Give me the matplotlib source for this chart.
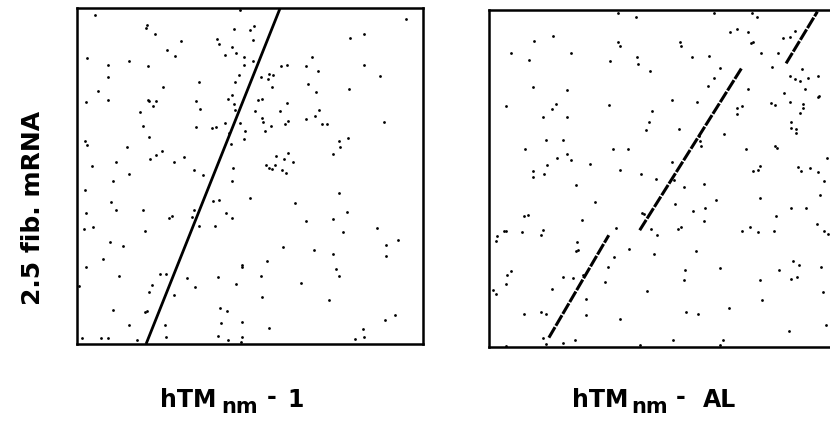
import matplotlib
matplotlib.use("Agg")
import matplotlib.pyplot as plt
import numpy as np

# ---------------- data (sequence positions) ----------------
left_dots_x = [55, 488, 985, 211, 206, 518, 531, 470, 233, 861, 421, 425, 528, 311, 819, 465, 269, 478, 444, 294,
               501, 31, 156, 528, 705, 93, 213, 500, 611, 628, 687, 860, 721, 907, 576, 588, 486, 572, 92, 551,
               367, 475, 691, 585, 258, 816, 62, 715, 93, 26, 212, 216, 238, 229, 555, 543, 464, 453, 472, 629,
               358, 370, 188, 474, 532, 607, 726, 714, 686, 554, 556, 633, 624, 444, 490, 733, 748, 919, 199, 358,
               406, 418, 582, 562, 456, 505, 215, 813, 785, 25, 30, 150, 461, 500, 788, 254, 238, 321, 633, 596,
               619, 767, 220, 117, 290, 46, 567, 574, 583, 592, 615, 626, 646, 467, 351, 378, 157, 109, 465, 23,
               784, 518, 103, 408, 426, 654, 118, 197, 350, 447, 26, 285, 277, 345, 466, 809, 686, 766, 365, 413,
               47, 21, 203, 899, 798, 963, 100, 138, 616, 925, 709, 768, 77, 925, 28, 494, 496, 568, 775, 126,
               248, 267, 551, 329, 422, 785, 478, 355, 226, 217, 672, 291, 555, 754, 109, 204, 210, 430, 451, 156,
               265, 432, 495, 924, 953, 575, 858, 268, 494, 424, 452, 491, 861, 833, 73, 93, 16, 181, 6]
left_dots_y = [987, 1002, 974, 957, 947, 942, 952, 944, 929, 929, 914, 900, 910, 907, 917, 890, 880, 872, 867, 862,
               860, 857, 849, 849, 860, 835, 834, 835, 834, 835, 832, 836, 817, 804, 810, 807, 805, 795, 800, 799,
               784, 784, 779, 770, 769, 764, 757, 756, 732, 725, 732, 727, 727, 712, 734, 730, 745, 734, 718, 723,
               727, 705, 695, 702, 697, 697, 702, 684, 674, 676, 665, 667, 659, 662, 661, 659, 659, 666, 654, 649,
               647, 650, 652, 639, 632, 638, 620, 616, 607, 609, 595, 589, 600, 615, 589, 577, 567, 560, 571, 564,
               553, 570, 554, 545, 545, 534, 535, 527, 524, 537, 520, 512, 544, 527, 520, 507, 509, 490, 489, 463,
               453, 439, 425, 429, 432, 422, 401, 401, 401, 392, 394, 383, 377, 380, 377, 396, 369, 375, 355, 355,
               350, 346, 340, 348, 335, 312, 306, 295, 291, 297, 281, 269, 256, 264, 230, 237, 230, 249, 226, 203,
               210, 209, 204, 199, 202, 204, 181, 170, 177, 155, 184, 147, 141, 133, 102, 97, 100, 107, 100, 57,
               57, 62, 67, 72, 86, 47, 46, 22, 22, 24, 12, 5, 20, 14, 17, 17, 19, 12, 174]

# main diagonal match (start, end) in the left comparison
left_match_x = [207, 609]
left_match_y = [0, 1007]

right_dots_x = [135, 191, 387, 394, 443, 573, 576, 676, 791, 807, 723, 746, 777, 793, 787, 885, 905, 920, 65, 120,
                245, 365, 445, 447, 483, 609, 661, 695, 676, 657, 778, 819, 869, 850, 905, 920, 935, 942, 958, 990,
                950, 888, 905, 945, 943, 935, 992, 990, 132, 235, 52, 189, 201, 162, 234, 362, 490, 481, 473, 550,
                625, 744, 760, 745, 848, 860, 908, 908, 922, 922, 571, 705, 170, 222, 109, 372, 418, 630, 635, 637,
                773, 861, 867, 203, 233, 247, 305, 175, 551, 133, 132, 165, 394, 458, 503, 555, 587, 645, 795, 808,
                815, 928, 937, 965, 990, 1008, 1015, 263, 320, 560, 613, 650, 683, 815, 907, 953, 995, 105, 118, 280,
                645, 460, 465, 862, 987, 23, 20, 45, 52, 100, 163, 155, 383, 488, 505, 567, 577, 760, 785, 810,
                858, 1008, 1020, 265, 260, 267, 375, 421, 495, 623, 359, 588, 693, 915, 931, 997, 872, 55, 65, 52,
                222, 251, 283, 348, 586, 816, 907, 925, 12, 20, 188, 291, 475, 821, 1005, 105, 155, 170, 292, 395,
                593, 628, 720, 1013, 903, 163, 170, 223, 258, 552, 702, 455, 695, 50, 387]
right_dots_y = [918, 932, 915, 903, 990, 915, 903, 1002, 1000, 990, 943, 952, 943, 915, 910, 925, 930, 947, 882, 860,
                882, 858, 868, 848, 828, 868, 872, 835, 807, 782, 772, 880, 882, 840, 812, 802, 798, 833, 807, 812,
                772, 762, 735, 728, 715, 700, 753, 748, 778, 770, 723, 713, 728, 690, 689, 724, 707, 674, 649, 740,
                735, 717, 722, 697, 730, 725, 673, 655, 653, 640, 652, 638, 620, 620, 594, 594, 594, 633, 617, 602,
                594, 602, 595, 567, 579, 560, 548, 546, 553, 526, 508, 518, 530, 519, 505, 500, 480, 489, 528, 530,
                543, 538, 528, 535, 525, 499, 567, 487, 436, 430, 408, 417, 442, 448, 418, 418, 455, 392, 395, 380,
                377, 402, 400, 392, 370, 334, 317, 347, 347, 344, 352, 335, 358, 354, 337, 353, 360, 348, 360, 345,
                348, 348, 340, 314, 288, 290, 269, 294, 278, 288, 240, 232, 238, 258, 247, 240, 230, 215, 227, 190,
                209, 208, 215, 196, 202, 202, 205, 210, 170, 160, 174, 145, 168, 142, 166, 98, 106, 98, 95, 85,
                105, 100, 118, 65, 47, 28, 10, 12, 20, 22, 22, 5, 5, 2, 1000]

# broken diagonal matches in the right comparison: (x0, y0, x1, y1)
right_match_x0 = [180, 453, 893]
right_match_y0 = [28, 350, 850]
right_match_x1 = [360, 760, 987]
right_match_y1 = [335, 837, 1005]

# label pieces: main name, subscript, suffix
label_main = ["hTM", "hTM"]
label_sub = ["nm", "nm"]
label_suffix = ["1", "AL"]
y_label = "2.5 fib. mRNA"

# ---------------- plotting ----------------
plt.rcParams["font.family"] = ["DejaVu Sans"]

fig = plt.figure(figsize=(8.3, 4.25), dpi=100)
ax1 = fig.add_axes([77 / 830, 1 - 344 / 425, 346 / 830, 336 / 425])
ax2 = fig.add_axes([489 / 830, 1 - 347 / 425, 346 / 830, 337 / 425])

for ax in (ax1, ax2):
    ax.set_xticks([])
    ax.set_yticks([])
    for sp in ax.spines.values():
        sp.set_linewidth(1.8)
        sp.set_color("black")

ax1.set_xlim(0, 1037)
ax1.set_ylim(0, 1007)
ax1.scatter(left_dots_x, left_dots_y, s=4, c="black", linewidths=0, zorder=3)
ax1.plot(left_match_x, left_match_y, color="black", lw=2.0, solid_capstyle="butt", zorder=4)

ax2.set_xlim(0, 1040)
ax2.set_ylim(0, 1010)
ax2.scatter(right_dots_x, right_dots_y, s=4, c="black", linewidths=0, zorder=3)
for x0, y0, x1, y1 in zip(right_match_x0, right_match_y0, right_match_x1, right_match_y1):
    ax2.plot([x0, x1], [y0, y1], color="black", lw=2.2, linestyle=(0, (4.0, 0.5)),
             zorder=4)

# x labels, placed piecewise to mimic the wide lettering of the original
main_cx = [188 / 830, 600 / 830]
sub_cx = [240 / 830, 650 / 830]
dash_cx = [272 / 830, 681 / 830]
suf_cx = [296 / 830, 720 / 830]
base_y = 1 - 407 / 425
sub_y = 1 - 413 / 425
dash_y = 1 - 397 / 425
for i in range(2):
    fig.text(main_cx[i], base_y, label_main[i], ha="center", va="baseline",
             fontsize=17, fontweight="bold")
    fig.text(sub_cx[i], sub_y, label_sub[i], ha="center", va="baseline",
             fontsize=15, fontweight="bold")
    fig.text(dash_cx[i], dash_y, "-", ha="center", va="center",
             fontsize=17, fontweight="bold")
    fig.text(suf_cx[i], base_y, label_suffix[i], ha="center", va="baseline",
             fontsize=17, fontweight="bold")

fig.text(0.040, 0.51, y_label, ha="center", va="center", rotation=90,
         fontsize=18, fontweight="bold")

fig.savefig("out.png", dpi=100)
